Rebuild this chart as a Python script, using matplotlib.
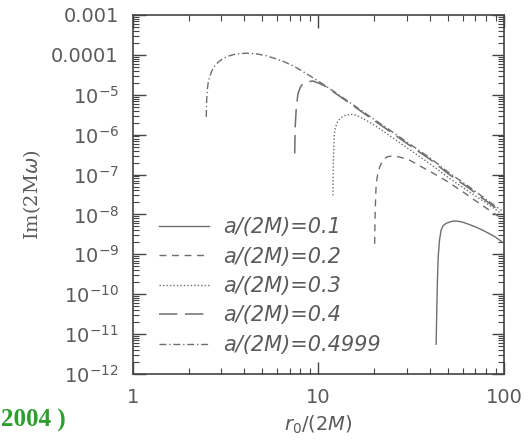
import numpy as np
import matplotlib.pyplot as plt
from matplotlib.ticker import LogLocator, FuncFormatter, NullFormatter

# values: r0/(2M) and Im(2M omega) for each spin
r_01 = [43.1, 43.4, 43.8, 44.2, 44.9, 45.8, 47.0, 48.8, 52.9, 56.0, 59.9, 65.0, 70.7, 77.0, 83.4, 90.0, 97.0]
im_01 = [5.6e-12, 3.2e-11, 2.2e-10, 8.4e-10, 2.2e-9, 4.0e-9, 5.2e-9, 6.0e-9, 6.8e-9, 6.8e-9,
         6.4e-9, 5.6e-9, 4.8e-9, 4.0e-9, 3.3e-9, 2.7e-9, 2.1e-9]

r_02 = [20.1, 20.2, 20.35, 20.5, 20.9, 21.4, 22.0, 22.7, 23.6, 24.7, 26.0, 27.4, 31.0, 36.5,
        42.0, 48.8, 60.0, 73.6, 85.0, 97.0]
im_02 = [1.84e-9, 8e-9, 2.8e-8, 5.9e-8, 1.05e-7, 1.55e-7, 2.05e-7, 2.5e-7, 2.8e-7, 2.9e-7,
         2.85e-7, 2.75e-7, 2.3e-7, 1.5e-7, 1.05e-7, 7.0e-8, 3.7e-8, 1.9e-8, 1.2e-8, 8.0e-9]

r_03 = [11.98, 12.05, 12.2, 12.4, 12.7, 13.1, 13.6, 14.1, 14.7, 15.3, 16.0, 17.5, 20.0, 25.0,
        30.0, 40.0, 50.0, 65.0, 80.0, 97.0]
im_03 = [3.0e-8, 2.5e-7, 1.07e-6, 1.6e-6, 2.1e-6, 2.55e-6, 2.9e-6, 3.1e-6, 3.2e-6, 3.2e-6,
         3.07e-6, 2.5e-6, 1.75e-6, 8.5e-7, 4.7e-7, 1.85e-7, 8.5e-8, 3.7e-8, 1.95e-8, 1.05e-8]

r_04 = [7.46, 7.5, 7.6, 7.77, 8.0, 8.27, 8.7, 9.35, 10.2, 11.0, 12.0, 15.0, 20.0, 25.0, 30.0,
        40.0, 50.0, 65.0, 80.0, 97.0]
im_04 = [3.4e-7, 1.5e-6, 4.5e-6, 1.07e-5, 1.55e-5, 1.9e-5, 2.1e-5, 2.22e-5, 1.9e-5, 1.6e-5,
         1.2e-5, 5.8e-6, 2.25e-6, 1.1e-6, 6.0e-7, 2.4e-7, 1.05e-7, 4.5e-8, 2.2e-8, 1.15e-8]

r_05 = [2.49, 2.50, 2.52, 2.55, 2.60, 2.67, 2.76, 2.88, 3.05, 3.25, 3.5, 3.8, 4.1, 4.6, 5.2,
        5.8, 6.5, 7.4, 8.7, 10.0, 12.0, 15.0, 20.0, 25.0, 30.0, 40.0, 50.0, 65.0, 80.0, 97.0]
im_05 = [2.8e-6, 6.5e-6, 1.3e-5, 2.0e-5, 2.9e-5, 4.0e-5, 5.2e-5, 6.5e-5, 8.0e-5, 9.2e-5,
         1.02e-4, 1.08e-4, 1.1e-4, 1.07e-4, 9.6e-5, 8.2e-5, 6.8e-5, 5.2e-5, 3.3e-5, 2.2e-5,
         1.25e-5, 6.1e-6, 2.4e-6, 1.18e-6, 6.5e-7, 2.6e-7, 1.15e-7, 4.9e-8, 2.4e-8, 1.25e-8]

labels = ['a/(2M)=0.1', 'a/(2M)=0.2', 'a/(2M)=0.3', 'a/(2M)=0.4', 'a/(2M)=0.4999']

grey = '#6e6e6e'
txt = '#5a5a5a'

fig = plt.figure(figsize=(5.29, 4.4), dpi=100)
ax = fig.add_axes([132.7/529, 66/440, 371.3/529, 359/440])

ax.plot(r_01, im_01, color=grey, lw=1.0, label=labels[0])
ax.plot(r_02, im_02, color=grey, lw=1.0, dashes=(5, 4), label=labels[1])
ax.plot(r_03, im_03, color=grey, lw=1.0, dashes=(1, 1.5), label=labels[2])
ax.plot(r_04, im_04, color=grey, lw=1.1, dashes=(12, 5), label=labels[3])
ax.plot(r_05, im_05, color=grey, lw=1.0, dashes=(5, 2, 1, 2), label=labels[4])

ax.set_xscale('log')
ax.set_yscale('log')
ax.set_xlim(1, 100)
ax.set_ylim(1e-12, 1e-3)

ax.yaxis.set_major_locator(LogLocator(base=10, numticks=20))
ax.yaxis.set_minor_locator(LogLocator(base=10, subs=np.arange(2, 10), numticks=200))
ax.xaxis.set_minor_locator(LogLocator(base=10, subs=np.arange(2, 10), numticks=50))
ax.yaxis.set_minor_formatter(NullFormatter())
ax.xaxis.set_minor_formatter(NullFormatter())


def ylab(v, pos):
    e = int(round(np.log10(v)))
    if e == -3:
        return '0.001'
    if e == -4:
        return '0.0001'
    return r'$10^{%d}$' % e


def xlab(v, pos):
    return '%d' % round(v)


ax.yaxis.set_major_formatter(FuncFormatter(ylab))
ax.xaxis.set_major_formatter(FuncFormatter(xlab))

ax.tick_params(which='both', direction='in', top=True, right=True, colors='#444444',
               labelcolor=txt, labelsize=14)
ax.tick_params(which='major', length=9, width=1.0, pad=10)
ax.tick_params(which='minor', length=4.5, width=0.8)
for s in ax.spines.values():
    s.set_color('#444444')
    s.set_linewidth(1.2)

ax.set_xlabel(r'$r_0/(2M)$', fontsize=14, color=txt, labelpad=5)
ax.set_ylabel(r'Im(2M$\omega$)', fontsize=14, color=txt, family='DejaVu Serif', labelpad=6)

leg = ax.legend(loc='center left', bbox_to_anchor=(0.02, 0.245), frameon=False,
                handlelength=2.4, handletextpad=0.67, labelspacing=0.45,
                prop={'size': 15, 'style': 'italic'})
for t in leg.get_texts():
    t.set_color(txt)

fig.text(0.002, 0.045, '2004 )', color='#2e9e2e', fontsize=18, fontweight='bold',
         family='Liberation Serif', va='center', ha='left')

fig.savefig('out.png', dpi=100)
